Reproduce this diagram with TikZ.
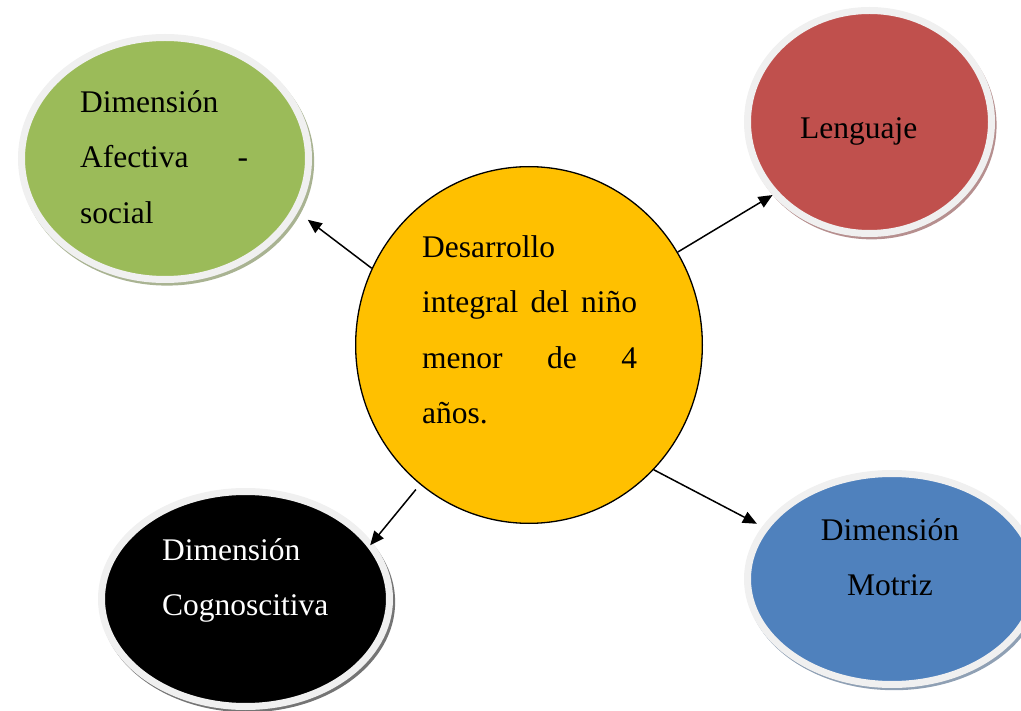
\documentclass[tikz,border=0pt]{standalone}
\usepackage{fontspec}
\setmainfont{Liberation Serif}
\usetikzlibrary{shapes.geometric,shadows,arrows.meta}
\definecolor{ringgray}{HTML}{F0F0F0}
\definecolor{cgreen}{HTML}{9BBB59}
\definecolor{cred}{HTML}{C0504D}
\definecolor{cblue}{HTML}{4F81BD}
\definecolor{cyellow}{HTML}{FFC000}
\tikzset{
  bub/.style={ellipse, draw=ringgray, line width=7pt, inner sep=0pt, fill=#1,
    drop shadow={shadow xshift=2pt, shadow yshift=-3pt, shadow scale=1.025,
      fill=#1!45!gray, opacity=0.75}},
  txt/.style={inner sep=0pt, font=\fontsize{31.5}{55.5}\selectfont},
  conn/.style={line width=1.5pt, -{Triangle[length=14pt,width=12pt]}},
}
\newcommand{\fl}{\rule{0pt}{25pt}}
\begin{document}
\begin{tikzpicture}[x=1pt,y=-1pt]
\useasboundingbox (0,0) rectangle (1021,711);
\clip (0,0) rectangle (1021,711);
% bubbles
\node[bub=cgreen, minimum width=287pt, minimum height=242pt] (g) at (165,158.5) {};
\node[bub=cred, minimum width=244pt, minimum height=223pt] (r) at (869.5,122) {};
\node[bub=black, minimum width=288pt, minimum height=215pt] (k) at (245.5,599) {};
\node[bub=cblue, minimum width=289pt, minimum height=211pt] (b) at (892,579) {};
\node[ellipse, draw=black, line width=1.3pt, fill=cyellow, inner sep=0pt,
  minimum width=346.7pt, minimum height=356.7pt] (y) at (529,345) {};
% texts
\node[txt, anchor=north west, text width=168pt, align=left] (gt) at (80,87)
  {\fl Dimensión\\Afectiva\hfill-\\social};
\node[txt, anchor=north west] (rt) at (800,113) {\fl Lenguaje};
\node[txt, anchor=north west, text width=175pt, align=left, text=white] (kt) at (162,535)
  {\fl Dimensión\\Cognoscitiva};
\node[txt, anchor=north, text width=170pt, align=center] (bt) at (890,515)
  {\fl Dimensión\\Motriz};
\node[txt, anchor=north west, text width=215pt, align=left] (yt) at (422,232)
  {\fl Desarrollo\\integral\hfill del\hfill niño\\menor\hfill de\hfill 4\\años.};
% connectors
\draw[conn, shorten >=12.7pt] (y.154.2) -- (g.-22.4);
\draw[conn] (y.32.2) -- (r.-143.6);
\draw[conn, shorten <=6.5pt, shorten >=-3.6pt] (y.232.2) -- (k.24.1);
\draw[conn, shorten >=6pt] (y.-45.1) -- (b.158.1);
\end{tikzpicture}
\end{document}
